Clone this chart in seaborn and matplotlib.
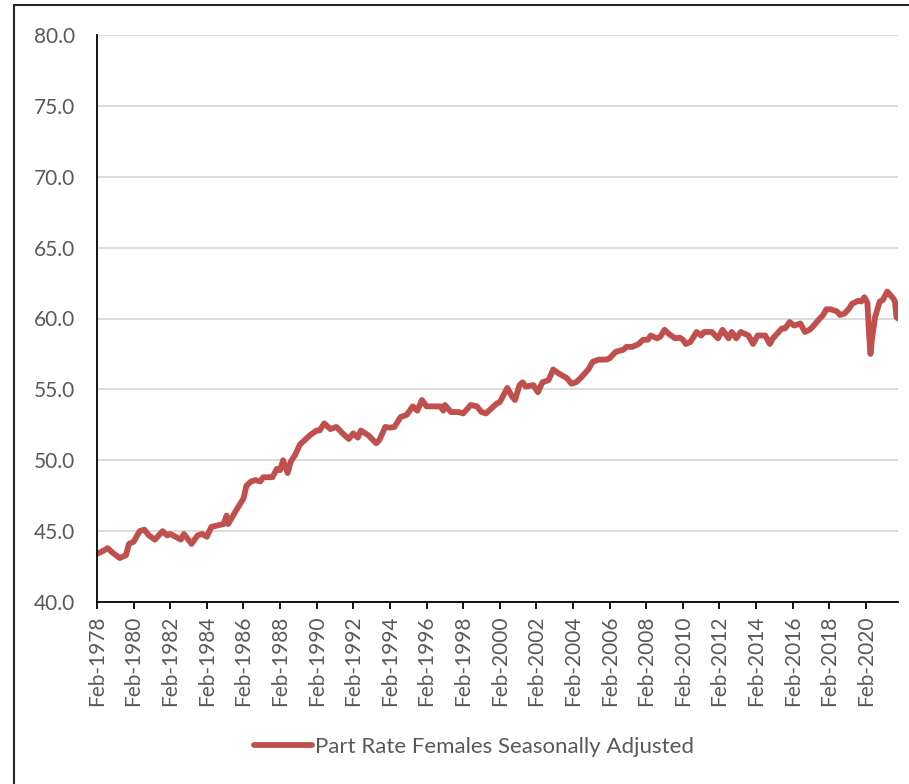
"""Female participation rate, seasonally adjusted"""

import matplotlib

matplotlib.use("Agg")
import matplotlib.dates as mdates
import matplotlib.pyplot as plt
import pandas as pd
import seaborn as sns
from matplotlib.patches import Rectangle

SERIES_NAME = "Part Rate Females Seasonally Adjusted"
START_MONTH = "1978-02-01"
LAST_TICK_MONTH = "2020-02-01"
LAST_MONTH_OFFSET = 525

# months after Feb-1978
month_offset = [
    0, 4, 7, 10, 15, 19, 21, 24, 28, 31, 34, 38, 43, 46, 48, 55, 57, 62, 66,
    69, 72, 75, 79, 83, 85, 86, 92, 96, 98, 101, 104, 107, 109, 115, 118, 120,
    122, 125, 127, 130, 133, 135, 140, 144, 146, 149, 153, 157, 161, 165, 168,
    171, 173, 178, 183, 185, 189, 192, 195, 199, 203, 207, 210, 213, 216, 220,
    225, 227, 228, 232, 237, 240, 245, 249, 252, 255, 259, 262, 264, 266, 269,
    272, 274, 277, 279, 281, 286, 289, 292, 296, 299, 303, 308, 311, 314, 317,
    322, 325, 329, 334, 336, 340, 345, 347, 351, 355, 358, 361, 363, 367, 369,
    372, 375, 379, 382, 384, 386, 389, 393, 396, 398, 403, 407, 410, 414, 416,
    419, 422, 427, 430, 433, 438, 441, 443, 446, 449, 451, 454, 457, 461, 464,
    467, 469, 473, 476, 478, 481, 485, 487, 490, 493, 495, 499, 501, 503, 505,
    506, 507, 508, 510, 513, 515, 518, 520, 522, 523, 524, 525,
]
part_rate = [
    43.4, 43.6, 43.8, 43.5, 43.1, 43.3, 44.1, 44.25, 45.0, 45.1, 44.7, 44.4,
    45.0, 44.7, 44.8, 44.4, 44.8, 44.1, 44.7, 44.8, 44.6, 45.3, 45.4, 45.5,
    46.1, 45.5, 46.6, 47.3, 48.2, 48.5, 48.6, 48.5, 48.8, 48.8, 49.4, 49.3,
    50.0, 49.1, 49.9, 50.4, 51.1, 51.3, 51.8, 52.1, 52.1, 52.6, 52.2, 52.35,
    51.9, 51.5, 51.9, 51.6, 52.1, 51.75, 51.2, 51.4, 52.35, 52.3, 52.35, 53.05,
    53.2, 53.8, 53.5, 54.25, 53.8, 53.8, 53.8, 53.5, 53.9, 53.4, 53.4, 53.3,
    53.9, 53.8, 53.4, 53.3, 53.7, 54.0, 54.1, 54.5, 55.1, 54.5, 54.25, 55.3,
    55.5, 55.2, 55.3, 54.8, 55.5, 55.65, 56.4, 56.1, 55.8, 55.4, 55.5, 55.8,
    56.4, 56.95, 57.1, 57.1, 57.2, 57.65, 57.8, 58.0, 58.0, 58.2, 58.5, 58.5,
    58.8, 58.6, 58.7, 59.2, 58.9, 58.6, 58.65, 58.5, 58.2, 58.35, 59.05, 58.8,
    59.05, 59.05, 58.6, 59.2, 58.6, 59.05, 58.6, 59.05, 58.8, 58.2, 58.8, 58.8,
    58.2, 58.6, 58.95, 59.3, 59.3, 59.75, 59.5, 59.65, 59.05, 59.2, 59.4, 59.9,
    60.25, 60.65, 60.65, 60.5, 60.25, 60.35, 60.7, 61.05, 61.25, 61.2, 61.5,
    61.1, 59.0, 57.5, 58.6, 60.1, 61.2, 61.3, 61.9, 61.65, 61.4, 61.2, 60.1,
    60.0,
]
y_ticks = [40, 45, 50, 55, 60, 65, 70, 75, 80]

start = pd.Timestamp(START_MONTH)
df = pd.DataFrame(
    {
        "month": [start + pd.DateOffset(months=k) for k in month_offset],
        "rate": part_rate,
    }
)
x_ticks = pd.date_range(START_MONTH, LAST_TICK_MONTH, freq="24MS")

sns.set_theme(style="white")
plt.rcParams["font.family"] = ["Lato", "DejaVu Sans"]

fig = plt.figure(figsize=(9.09, 7.84), dpi=100)
ax = fig.add_axes([97 / 909, 1 - 602 / 784, 801 / 909, 567 / 784])

sns.lineplot(
    data=df, x="month", y="rate", ax=ax, color="#C0504D", linewidth=4.2,
    label=SERIES_NAME, solid_capstyle="round", solid_joinstyle="round",
)

ax.set_ylim(40, 80)
ax.set_yticks(y_ticks)
ax.set_yticklabels([f"{v:.1f}" for v in y_ticks])
ax.set_xlim(start, start + pd.DateOffset(months=LAST_MONTH_OFFSET))
ax.set_xticks(x_ticks)
ax.xaxis.set_major_formatter(mdates.DateFormatter("%b-%Y"))
ax.set_xlabel("")
ax.set_ylabel("")

ax.yaxis.grid(True, color="#D9D9D9", linewidth=1.3)
ax.set_axisbelow(True)
for side in ("top", "right"):
    ax.spines[side].set_visible(False)
for side in ("left", "bottom"):
    ax.spines[side].set_color("black")
    ax.spines[side].set_linewidth(1.3)

ax.tick_params(axis="y", length=0, pad=16, labelsize=15, labelcolor="#595959")
ax.tick_params(
    axis="x", length=5, width=1.3, color="black", direction="out", pad=5,
    labelsize=15, labelcolor="#595959", rotation=90, bottom=True,
)

ax.legend(
    loc="center", bbox_to_anchor=(474 / 909, 1 - 747 / 784),
    bbox_transform=fig.transFigure, frameon=False, fontsize=16,
    handlelength=2.6, handletextpad=0.15, labelcolor="#595959",
)

fig.add_artist(
    Rectangle(
        (13.5 / 909, -0.1), 1.2, 1.1 - 5.5 / 784, transform=fig.transFigure,
        fill=False, edgecolor="#262626", linewidth=1.5, clip_on=False,
    )
)

fig.savefig("out.png", dpi=100)
